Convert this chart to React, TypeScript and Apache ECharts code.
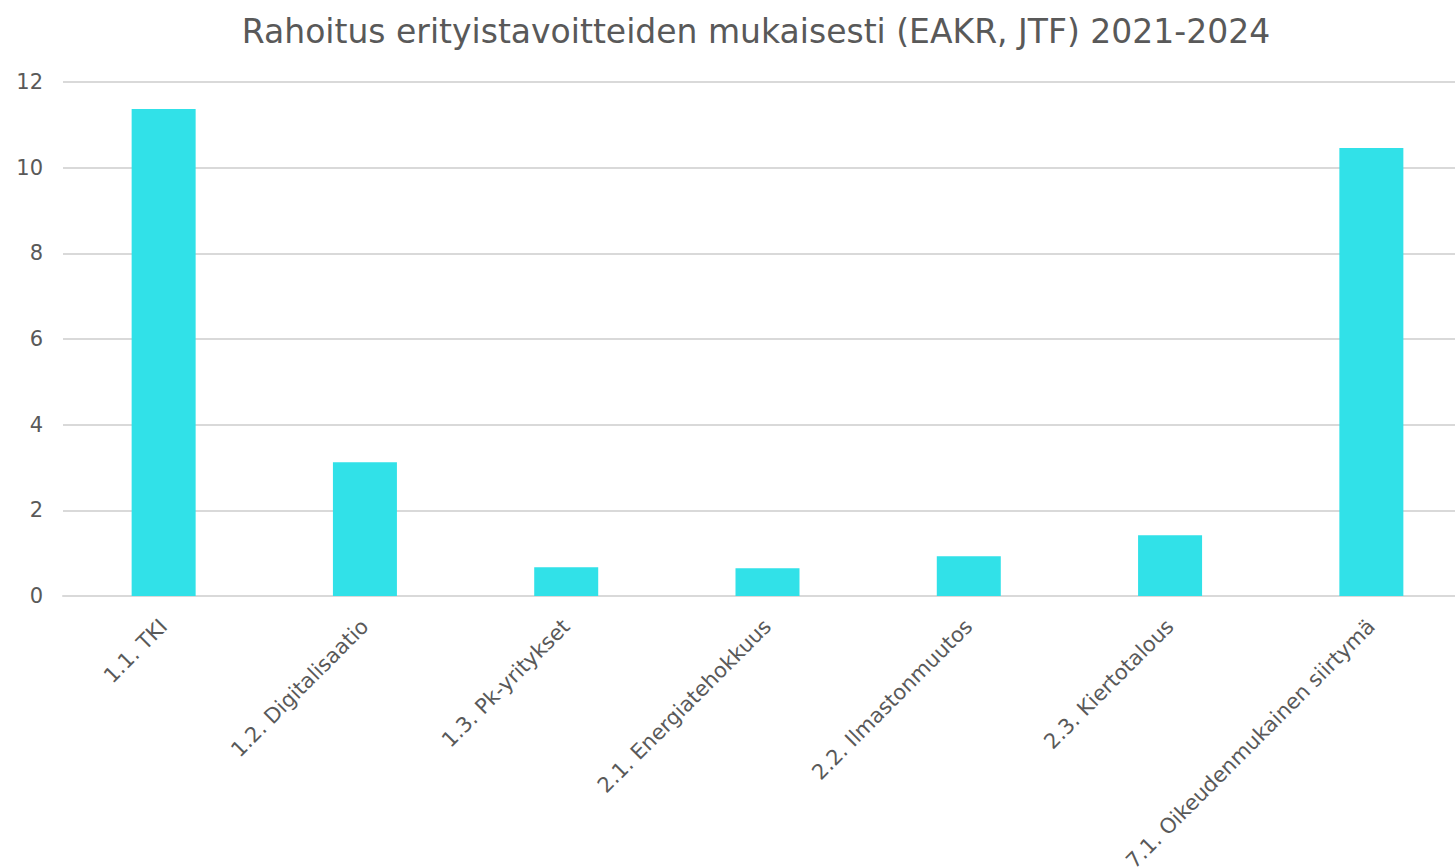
import React, { useEffect, useRef } from "react";
import * as echarts from "echarts";

const categories = [
  "1.1. TKI",
  "1.2. Digitalisaatio",
  "1.3. Pk-yritykset",
  "2.1. Energiatehokkuus",
  "2.2. Ilmastonmuutos",
  "2.3. Kiertotalous",
  "7.1. Oikeudenmukainen siirtymä",
];
const values = [11.37, 3.12, 0.67, 0.65, 0.93, 1.42, 10.46];
const titleText = "Rahoitus erityistavoitteiden mukaisesti (EAKR, JTF) 2021-2024";

const FONT = "DejaVu Sans";

export default function App() {
  const ref = useRef<HTMLDivElement>(null);
  useEffect(() => {
    const chart = echarts.init(ref.current!, null, { renderer: "svg" });
    chart.setOption({
      animation: false,
      backgroundColor: "#ffffff",
      title: {
        text: titleText,
        left: 751,
        textAlign: "center",
        top: 10,
        textStyle: {
          fontFamily: FONT,
          fontSize: 33,
          fontWeight: "normal",
          color: "#595959",
        },
      },
      grid: {
        left: 63,
        right: -17,
        top: 82,
        bottom: 272,
        containLabel: false,
        outerBoundsMode: "none",
      },
      xAxis: {
        type: "category",
        data: categories,
        axisLine: { show: true, lineStyle: { color: "#D9D9D9", width: 2 } },
        axisTick: { show: false },
        axisLabel: {
          rotate: 45,
          interval: 0,
          margin: 27,
          fontFamily: FONT,
          fontSize: 21,
          color: "#595959",
        },
      },
      yAxis: {
        type: "value",
        min: 0,
        max: 12,
        interval: 2,
        axisLine: { show: false },
        axisTick: { show: false },
        splitLine: { lineStyle: { color: "#D9D9D9", width: 2 } },
        axisLabel: {
          fontFamily: FONT,
          fontSize: 21,
          color: "#595959",
          margin: 20,
        },
      },
      series: [
        {
          type: "bar",
          data: values,
          barWidth: 64,
          itemStyle: { color: "#31E1E8" },
        },
      ],
    });
    return () => chart.dispose();
  }, []);
  return (
    <div
      ref={ref}
      style={{ position: "absolute", left: 0, top: 0, width: 1455, height: 868 }}
    />
  );
}
